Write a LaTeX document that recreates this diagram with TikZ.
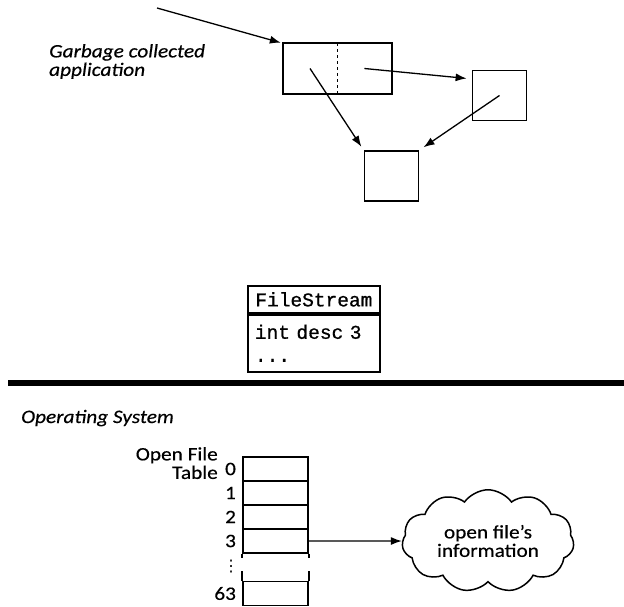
\documentclass[tikz,border=0pt]{standalone}
\usepackage{fontspec}
\setmainfont{Carlito}[FakeStretch=1.12, FakeBold=0.4]
\setmonofont{Liberation Mono}[FakeBold=0.8]
\newfontfamily\symfont{DejaVu Sans}
\usepackage{tikz}
\usetikzlibrary{arrows.meta,positioning,shapes.symbols,calc}
\newcommand{\lblfont}{\fontsize{19pt}{18.5pt}\selectfont}
\newcommand{\codefont}{\ttfamily\fontsize{19.5pt}{23pt}\selectfont}

\begin{document}
\begin{tikzpicture}[x=1pt, y=-1pt,
  half/.style={minimum width=54pt, minimum height=50pt, inner sep=0pt},
  objbox/.style={draw, line width=1.8pt, minimum width=54pt, minimum height=50pt, inner sep=0pt},
  field/.style={draw, line width=1.8pt, minimum width=132pt, inner sep=0pt, font=\codefont},
  slot/.style={draw, line width=1.8pt, minimum width=65pt, minimum height=24pt, inner sep=0pt},
  idx/.style={inner sep=0pt, font=\lblfont},
  ptr/.style={-{Latex[length=11pt,width=8pt]}, line width=1.3pt},
  every node/.style={align=center}
]
\useasboundingbox (0,0) rectangle (624,607);

%% Heap of the application
\node[font=\lblfont\itshape, align=left, anchor=north west, inner sep=0pt] (app) at (49,44) {Garbage collected\\application};

\node[half] (objL) at (310,68.5) {};
\node[half, right=0pt of objL] (objR) {};
\draw[line width=1.8pt] (objL.north west) rectangle (objR.south east);
\draw[dashed, line width=1.1pt] (objL.north east) -- (objL.south east);

\node[objbox] (rbox) at (499.5,95.5) {};
\node[objbox] (bbox) at (391.5,176) {};

\coordinate (root) at (157,8);
\draw[ptr, shorten >=2pt] (root) -- (objL.north west);
\draw[ptr, shorten >=4pt] (objL.center) -- (bbox.north west);
\draw[ptr, shorten >=5pt] (objR.center) -- ($(rbox.north west)!.18!(rbox.south west)$);
\draw[ptr, shorten >=5pt] (rbox.center) -- (bbox.north east);

%% FileStream object
\node[field, minimum height=27pt, anchor=north west] (fsHead) at (247,285) {FileStream};
\node[field, minimum height=57pt, below=0pt of fsHead, text width=118pt, align=left] (fsBody) {int desc 3\\...};

%% User / kernel boundary
\coordinate (sepL) at (8,383);
\coordinate (sepR) at (624,383);
\draw[line width=6pt] (sepL) -- (sepR);

\node[font=\lblfont\itshape, anchor=base west, inner sep=0pt] (os) at (21,423) {Operating System};

%% Open file table
\node[font=\lblfont, align=right, anchor=north east, inner sep=0pt] (oft) at (218,447) {Open File\\Table};

\foreach \i/\y in {0/469, 1/493, 2/517, 3/541}{
  \node[slot] (slot\i) at (275.5,\y) {};
  \node[idx, left=6pt of slot\i] (idx\i) {\i};
}
\node[slot] (slot63) at (275.5,593.5) {};
\node[idx, left=6pt of slot63] (idx63) {63};

\draw[line width=1.8pt] (slot3.south west) -- ++(0,4) (slot3.south east) -- ++(0,4);
\draw[line width=1.8pt] (slot63.north west) -- ++(0,-10) (slot63.north east) -- ++(0,-10);
\node[inner sep=0pt, font=\symfont\fontsize{16pt}{16pt}\selectfont] (gap) at (231,567) {⋮};

%% Entry 3 points to the kernel's record
\node[cloud, draw, line width=1.5pt, cloud puffs=11, cloud puff arc=110, aspect=1.7,
      minimum width=172pt, minimum height=100pt, inner sep=0pt, font=\lblfont]
     (info) at (488,541) {open file’s\\information};
\draw[ptr] (slot3.east) -- (info.west);

\end{tikzpicture}
\end{document}
